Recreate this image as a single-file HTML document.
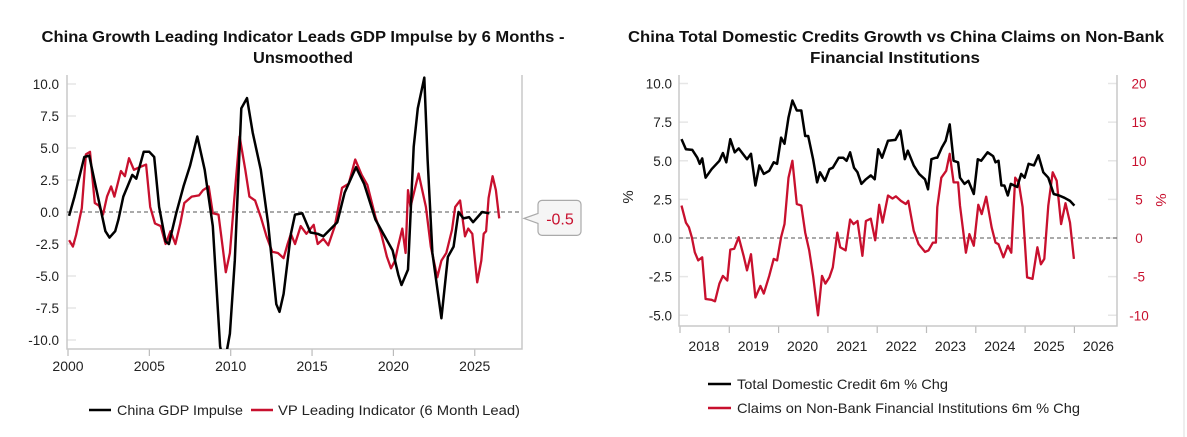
<!DOCTYPE html>
<html><head><meta charset="utf-8"><style>
html,body{margin:0;padding:0;background:#fff;width:1187px;height:437px;overflow:hidden}
svg{display:block;font-family:"Liberation Sans",Arial,sans-serif}
</style></head><body>
<svg id="c" width="1187" height="437" viewBox="0 0 1187 437">
<line x1="1184" y1="0" x2="1184" y2="437" stroke="#ddd"/>
<text x="303" y="42" text-anchor="middle" font-size="16" font-weight="bold" fill="#111" textLength="523" lengthAdjust="spacingAndGlyphs">China Growth Leading Indicator Leads GDP Impulse by 6 Months -</text>
<text x="303" y="63" text-anchor="middle" font-size="16" font-weight="bold" fill="#111" textLength="100" lengthAdjust="spacingAndGlyphs">Unsmoothed</text>
<text x="896" y="42" text-anchor="middle" font-size="16" font-weight="bold" fill="#111" textLength="536" lengthAdjust="spacingAndGlyphs">China Total Domestic Credits Growth vs China Claims on Non-Bank</text>
<text x="895" y="63" text-anchor="middle" font-size="16" font-weight="bold" fill="#111" textLength="170" lengthAdjust="spacingAndGlyphs">Financial Institutions</text>
<defs><clipPath id="clipL"><rect x="67" y="75" width="455" height="274"/></clipPath><clipPath id="clipR"><rect x="679" y="75" width="438" height="251"/></clipPath></defs>
<g id="L"></g><g id="R"></g>
</svg>
<script>
// ---- Left chart data ----
const gdpYears=[2000.07,2000.4,2001.0,2001.3,2001.7,2002.3,2002.55,2002.9,2003.1,2003.4,2003.95,2004.2,2004.65,2005.0,2005.3,2005.6,2006.0,2006.2,2006.65,2007.1,2007.5,2007.95,2008.4,2008.9,2009.35,2009.6,2009.95,2010.25,2010.65,2011.0,2011.35,2011.85,2012.3,2012.8,2013.0,2013.25,2013.7,2013.95,2014.4,2014.9,2015.35,2015.7,2016.55,2017.0,2017.7,2018.2,2018.9,2019.95,2020.3,2020.5,2020.9,2021.25,2021.5,2021.9,2022.1,2022.4,2022.95,2023.35,2023.7,2024.0,2024.3,2024.65,2024.9,2025.45,2025.9];
const gdpValues=[-0.3,1.2,4.3,4.4,2.0,-1.5,-2.0,-1.5,-0.6,1.2,2.9,2.6,4.7,4.7,4.3,0.4,-2.3,-2.5,-0.1,2.0,3.6,5.9,3.3,-1.1,-10.5,-12.0,-9.5,-3.8,8.1,8.9,6.2,3.3,-0.9,-7.2,-7.8,-6.4,-1.7,-0.2,-0.1,-1.6,-1.7,-1.9,-0.8,1.5,3.5,2.2,-0.6,-3.0,-4.9,-5.7,-4.5,5.1,8.1,10.5,4.1,-3.2,-8.3,-3.5,-2.7,0.0,-0.5,-0.4,-0.8,0.0,-0.1];
const vpYears=[2000.07,2000.3,2000.5,2000.85,2001.1,2001.35,2001.65,2001.9,2002.15,2002.4,2002.65,2002.85,2003.25,2003.5,2003.75,2004.05,2004.4,2004.8,2005.05,2005.35,2005.7,2006.0,2006.3,2006.6,2006.9,2007.15,2007.6,2008.05,2008.3,2008.65,2008.9,2009.25,2009.5,2009.7,2009.95,2010.25,2010.55,2010.9,2011.15,2011.5,2011.85,2012.2,2012.55,2012.9,2013.25,2013.5,2013.7,2013.95,2014.3,2014.65,2015.1,2015.35,2015.7,2016.0,2016.4,2016.85,2017.25,2017.65,2018.05,2018.4,2018.9,2019.25,2019.6,2019.85,2020.1,2020.3,2020.55,2020.75,2020.9,2021.05,2021.55,2022.0,2022.3,2022.7,2022.95,2023.25,2023.6,2023.8,2024.1,2024.4,2024.6,2024.85,2025.15,2025.4,2025.55,2025.7,2025.85,2026.1,2026.3,2026.5];
const vpValues=[-2.2,-2.7,-1.8,0.3,4.5,4.7,0.7,0.5,-0.2,1.2,2.0,1.2,3.2,2.8,4.2,3.3,3.5,3.7,0.4,-0.9,-1.1,-2.5,-1.5,-2.5,-0.9,0.7,1.2,1.3,1.7,2.0,-0.1,-0.2,-2.7,-4.7,-3.2,1.5,5.9,3.3,1.2,0.9,-0.4,-1.9,-3.1,-3.2,-3.6,-2.5,-1.7,-2.5,-1.1,-1.7,-1.0,-2.5,-2.1,-2.6,-1.1,1.9,2.2,4.1,2.9,2.1,-0.4,-1.7,-3.5,-4.4,-3.8,-2.6,-1.3,-3.2,1.7,0.4,3.0,0.4,-2.7,-5.1,-3.8,-3.2,-1.4,0.4,0.9,-1.9,-1.3,-1.7,-5.5,-3.8,-1.7,-1.5,1.1,2.8,1.7,-0.5];
const leftYTicks=[10,7.5,5,2.5,0,-2.5,-5,-7.5,-10];
const leftXTicks=[2000,2005,2010,2015,2020,2025];
// ---- Right chart data ----
const creditYears=[2018.03,2018.12,2018.25,2018.35,2018.4,2018.45,2018.52,2018.64,2018.8,2018.87,2018.94,2019.02,2019.11,2019.19,2019.36,2019.44,2019.53,2019.61,2019.7,2019.81,2019.9,2019.97,2020.05,2020.12,2020.2,2020.28,2020.37,2020.46,2020.54,2020.6,2020.7,2020.78,2020.84,2020.94,2021.03,2021.1,2021.22,2021.31,2021.38,2021.45,2021.53,2021.6,2021.68,2021.77,2021.87,2021.95,2022.02,2022.1,2022.22,2022.37,2022.47,2022.56,2022.62,2022.74,2022.85,2022.97,2023.03,2023.1,2023.19,2023.22,2023.31,2023.39,2023.47,2023.55,2023.64,2023.68,2023.77,2023.85,2023.96,2024.04,2024.11,2024.24,2024.35,2024.4,2024.46,2024.52,2024.58,2024.65,2024.71,2024.84,2024.92,2024.99,2025.07,2025.18,2025.27,2025.37,2025.47,2025.58,2025.69,2025.8,2025.91,2026.0];
const creditValues=[6.4,5.75,5.7,5.2,4.8,5.15,3.9,4.45,5.0,5.5,4.9,6.4,5.55,5.8,5.1,5.45,3.4,4.7,4.15,4.35,4.9,4.8,6.5,6.1,7.8,8.9,8.25,8.25,6.6,6.6,5.1,3.6,4.25,3.7,4.45,4.55,5.2,5.2,5.0,5.55,4.55,4.25,3.5,3.8,4.05,3.8,5.75,5.2,6.3,6.35,6.95,5.1,5.65,4.7,4.15,3.8,3.15,5.1,5.2,5.2,5.85,6.3,7.35,5.0,4.9,3.9,3.5,3.7,2.85,5.1,5.0,5.55,5.3,4.9,5.0,3.4,3.4,2.75,3.5,3.3,4.15,3.9,4.8,4.7,5.35,4.25,3.9,2.85,2.75,2.6,2.4,2.1];
const nbfiYears=[2018.03,2018.12,2018.18,2018.24,2018.3,2018.37,2018.45,2018.52,2018.64,2018.71,2018.8,2018.87,2018.96,2019.02,2019.1,2019.19,2019.29,2019.36,2019.44,2019.53,2019.63,2019.7,2019.81,2019.9,2019.97,2020.05,2020.12,2020.2,2020.28,2020.37,2020.46,2020.54,2020.62,2020.7,2020.8,2020.88,2020.95,2021.03,2021.1,2021.19,2021.25,2021.36,2021.45,2021.52,2021.6,2021.7,2021.77,2021.87,2021.96,2022.04,2022.11,2022.22,2022.31,2022.38,2022.48,2022.58,2022.63,2022.74,2022.84,2022.97,2023.04,2023.13,2023.19,2023.22,2023.3,2023.4,2023.47,2023.55,2023.64,2023.68,2023.8,2023.87,2023.96,2024.05,2024.12,2024.21,2024.32,2024.4,2024.46,2024.56,2024.65,2024.72,2024.8,2024.87,2024.95,2025.04,2025.15,2025.25,2025.32,2025.39,2025.47,2025.56,2025.64,2025.73,2025.82,2025.91,2025.99];
const nbfiValues=[4.2,2.0,1.4,0.1,-1.85,-2.9,-2.5,-7.9,-8.0,-8.2,-5.9,-4.9,-5.5,-1.5,-1.4,0.1,-2.3,-4.2,-2.1,-7.7,-6.2,-7.2,-4.9,-2.7,-2.9,0.1,1.8,7.8,10.0,4.4,4.2,0.7,-1.6,-4.9,-10.0,-4.9,-5.9,-5.1,-3.8,0.7,-1.2,-1.6,2.4,1.8,2.2,-2.3,2.2,2.5,-0.3,4.3,2.0,5.5,5.1,5.4,4.8,4.4,4.8,0.95,-0.8,-1.8,-1.6,-0.6,-0.6,4.0,7.8,8.7,10.9,7.2,7.2,4.2,-1.9,0.5,-1.0,4.3,3.1,5.35,1.4,-0.6,-0.8,-2.5,-1.0,-1.9,7.8,7.2,4.0,-5.1,-5.3,-1.2,-3.4,-2.7,4.2,8.5,7.4,1.8,4.5,2.0,-2.7];
const rightLTicks=[10,7.5,5,2.5,0,-2.5,-5];
const rightRTicks=[20,15,10,5,0,-5,-10];
const rightXTicks=[2018,2019,2020,2021,2022,2023,2024,2025,2026];

const NS='http://www.w3.org/2000/svg';
function mk(parent,tag,attrs,txt){const e=document.createElementNS(NS,tag);for(const k in attrs)e.setAttribute(k,attrs[k]);if(txt!==undefined)e.textContent=txt;parent.appendChild(e);return e;}
function fmt(v){return v.toFixed(1);}
function path(xs,vs,fx,fy){return xs.map((x,i)=>(i?'L':'M')+fx(x).toFixed(1)+','+fy(vs[i]).toFixed(1)).join('');}
let a;

// ===== Left chart =====
const L=document.getElementById('L');
const lx=y=>68+(y-2000)*16.27;
const ly=v=>212-v*12.8;
const lTop=75,lBot=349,lLeft=67,lRight=522;
leftYTicks.forEach(t=>{
  a=mk(L,'line',{x1:lLeft,x2:lLeft+9,y1:ly(t),y2:ly(t),stroke:'#e6e6e6','stroke-width':1.5});
  
  
  a=mk(L,'text',{x:lLeft-8,y:ly(t)+5,'text-anchor':'end','font-size':13.5,fill:'#222'},fmt(t));
  
  
});
leftXTicks.forEach(t=>{
  a=mk(L,'line',{x1:lx(t),x2:lx(t),y1:lBot,y2:lBot+7,stroke:'#bbb','stroke-width':1.2});
  
  
  a=mk(L,'text',{x:lx(t),y:lBot+22,'text-anchor':'middle','font-size':14,fill:'#222'},t);
  
  
});
a=mk(L,'polyline',{points:`${lLeft},${lTop} ${lLeft},${lBot} ${lRight},${lBot} ${lRight},${lTop}`,fill:'none',stroke:'#c8c8c8','stroke-width':1.5});


a=mk(L,'line',{x1:lLeft,x2:lRight,y1:ly(0),y2:ly(0),stroke:'#555','stroke-dasharray':'4,3'});


a=mk(L,'path',{d:path(vpYears,vpValues,lx,ly),fill:'none',stroke:'#c8102e','stroke-width':2.3,'clip-path':'url(#clipL)','stroke-linejoin':'round'});


a=mk(L,'path',{d:path(gdpYears,gdpValues,lx,ly),fill:'none',stroke:'#000','stroke-width':2.5,'clip-path':'url(#clipL)','stroke-linejoin':'round'});


const lastVp=vpValues[vpValues.length-1];
const cy=ly(lastVp);
a=mk(L,'path',{d:`M542,${cy-18} h35 a4,4 0 0 1 4,4 v27 a4,4 0 0 1 -4,4 h-35 a4,4 0 0 1 -4,-4 v-8 l-14,-5 l14,-5 v-9 a4,4 0 0 1 4,-4 z`,fill:'#f5f5f5',stroke:'#aaa','stroke-width':1.2});


a=mk(L,'text',{x:560,y:cy+6,'text-anchor':'middle','font-size':16,fill:'#c8102e'},fmt(lastVp));


a=mk(L,'line',{x1:89,x2:111,y1:410,y2:410,stroke:'#000','stroke-width':2.5});


a=mk(L,'text',{x:117,y:415,'font-size':14,fill:'#222',textLength:126,lengthAdjust:'spacingAndGlyphs'},'China GDP Impulse');


a=mk(L,'line',{x1:251,x2:273,y1:410,y2:410,stroke:'#c8102e','stroke-width':2.5});


a=mk(L,'text',{x:278,y:415,'font-size':14,fill:'#222',textLength:242,lengthAdjust:'spacingAndGlyphs'},'VP Leading Indicator (6 Month Lead)');



// ===== Right chart =====
const R=document.getElementById('R');
const rx=y=>680+(y-2018)*49.3;
const ryL=v=>238-v*15.45;
const ryR=v=>238-v*7.725;
const rTop=75,rBot=326,rLeft=679,rRight=1117;
rightLTicks.forEach(t=>{
  a=mk(R,'line',{x1:rLeft,x2:rLeft+9,y1:ryL(t),y2:ryL(t),stroke:'#e6e6e6','stroke-width':1.5});
  
  
  a=mk(R,'text',{x:672,y:ryL(t)+5,'text-anchor':'end','font-size':13.5,fill:'#222'},fmt(t));
  
  
});
rightRTicks.forEach(t=>{
  a=mk(R,'line',{x1:rRight-9,x2:rRight,y1:ryR(t),y2:ryR(t),stroke:'#e6e6e6','stroke-width':1.5});
  
  
  a=mk(R,'text',{x:1139,y:ryR(t)+5,'text-anchor':'middle','font-size':13.5,fill:'#c8102e'},t);
  
  
});
rightXTicks.forEach(t=>{
  a=mk(R,'line',{x1:rx(t),x2:rx(t),y1:rBot,y2:rBot+7,stroke:'#bbb','stroke-width':1.2});
  
  
  a=mk(R,'text',{x:rx(t)+24,y:rBot+25,'text-anchor':'middle','font-size':14,fill:'#222'},t);
  
  
});
a=mk(R,'polyline',{points:`${rLeft},${rTop} ${rLeft},${rBot} ${rRight},${rBot} ${rRight},${rTop}`,fill:'none',stroke:'#c8c8c8','stroke-width':1.5});


a=mk(R,'line',{x1:rLeft,x2:rRight,y1:ryL(0),y2:ryL(0),stroke:'#555','stroke-dasharray':'4,3'});


a=mk(R,'text',{x:0,y:0,'font-size':15,fill:'#222','text-anchor':'middle',transform:'translate(633,197) rotate(-90)'},'%');


a=mk(R,'text',{x:0,y:0,'font-size':15,fill:'#c8102e','text-anchor':'middle',transform:'translate(1156,200) rotate(90)'},'%');


a=mk(R,'path',{d:path(nbfiYears,nbfiValues,rx,ryR),fill:'none',stroke:'#c8102e','stroke-width':2.3,'clip-path':'url(#clipR)','stroke-linejoin':'round'});


a=mk(R,'path',{d:path(creditYears,creditValues,rx,ryL),fill:'none',stroke:'#000','stroke-width':2.5,'clip-path':'url(#clipR)','stroke-linejoin':'round'});


a=mk(R,'line',{x1:708,x2:731,y1:384,y2:384,stroke:'#000','stroke-width':2.5});


a=mk(R,'text',{x:737,y:389,'font-size':14,fill:'#222',textLength:211,lengthAdjust:'spacingAndGlyphs'},'Total Domestic Credit 6m % Chg');


a=mk(R,'line',{x1:708,x2:731,y1:408,y2:408,stroke:'#c8102e','stroke-width':2.5});


a=mk(R,'text',{x:737,y:413,'font-size':14,fill:'#222',textLength:343,lengthAdjust:'spacingAndGlyphs'},'Claims on Non-Bank Financial Institutions 6m % Chg');


</script>
</body></html>
